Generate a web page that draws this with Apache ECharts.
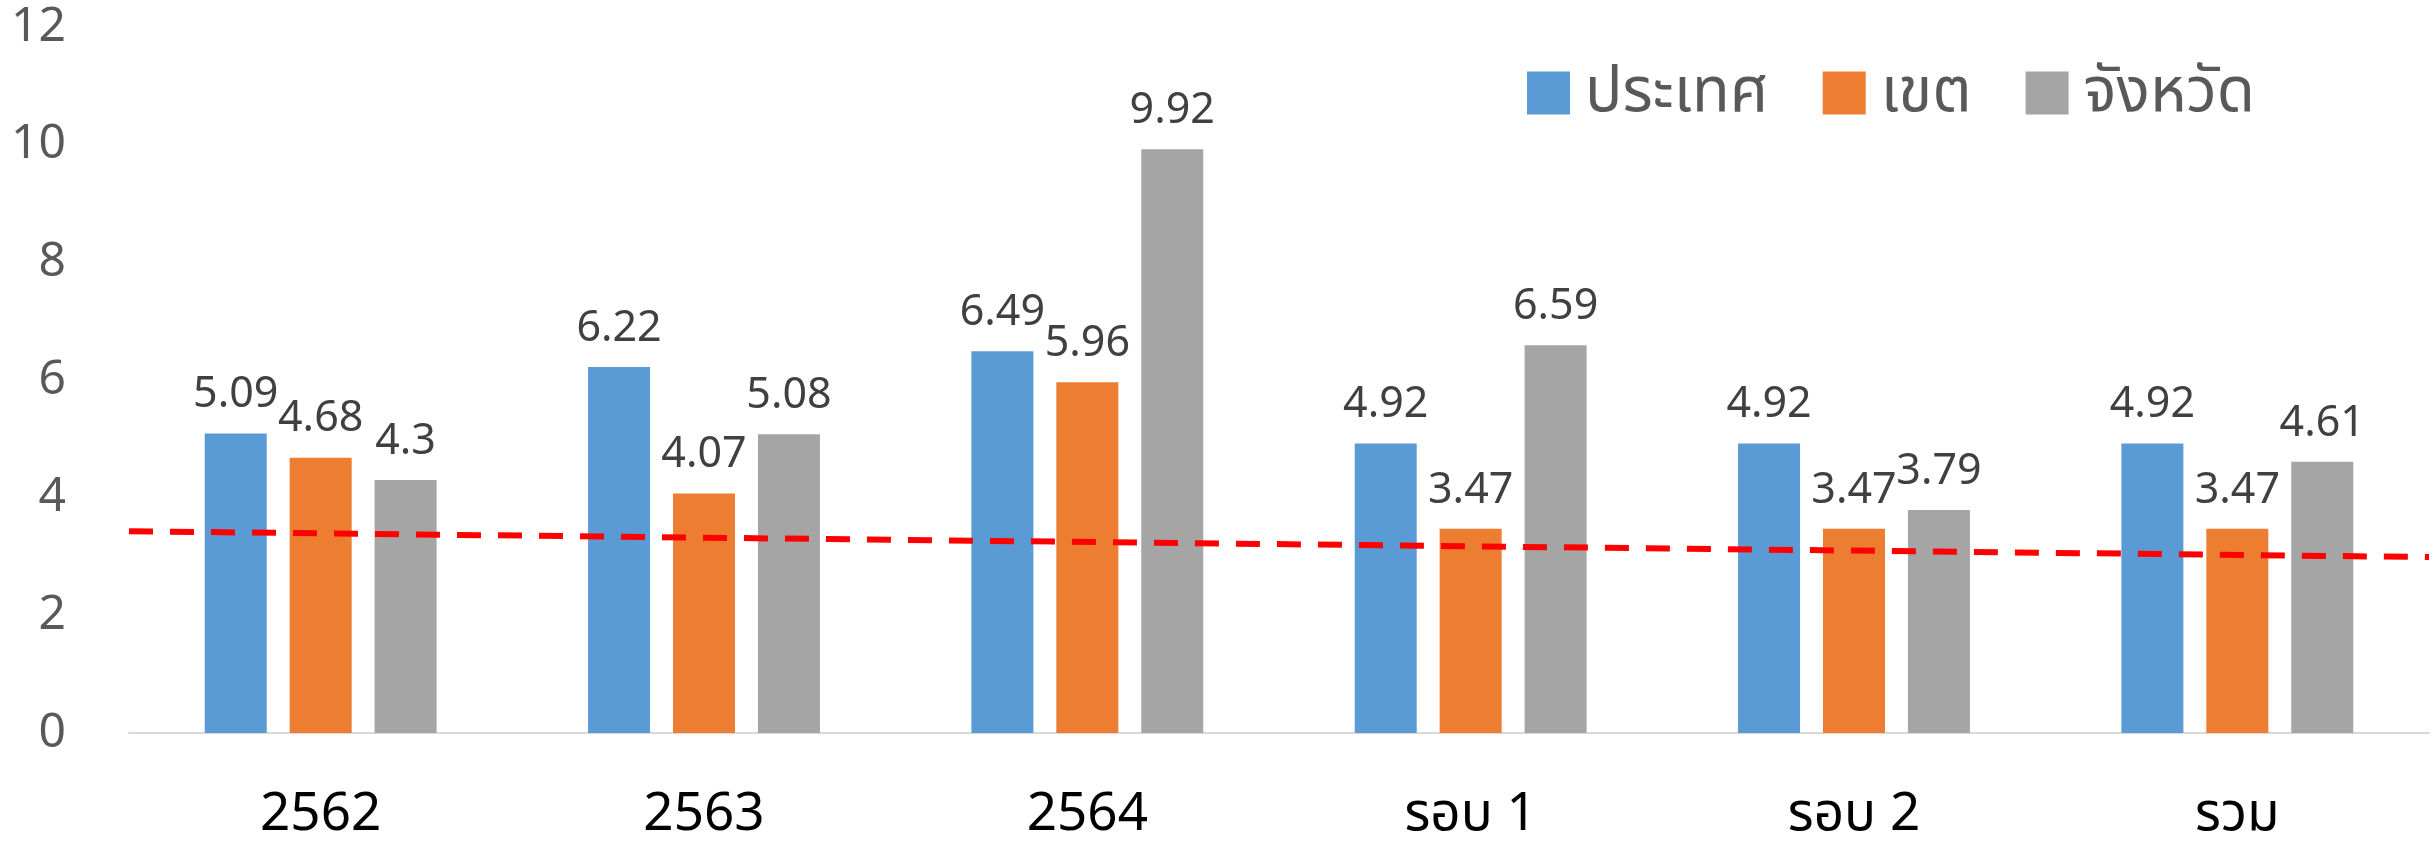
<!DOCTYPE html>
<html>
<head>
<meta charset="utf-8">
<title>chart</title>
<script src="https://cdn.jsdelivr.net/npm/echarts@6/dist/echarts.min.js"></script>
<style>
  html, body { margin: 0; padding: 0; background: #fff; }
  #chart { width: 2435px; height: 847px; }
</style>
</head>
<body>
<div id="chart"></div>
<script>
const categories = ['2562', '2563', '2564', 'รอบ 1', 'รอบ 2', 'รวม'];
const seriesNames = ['ประเทศ', 'เขต', 'จังหวัด'];
const country = [5.09, 6.22, 6.49, 4.92, 4.92, 4.92];
const district = [4.68, 4.07, 5.96, 3.47, 3.47, 3.47];
const province = [4.3, 5.08, 9.92, 6.59, 3.79, 4.61];
// red dashed trend line, value at left and right edge of the plot
const trendX = [0, 1];
const trendY = [3.43, 2.99];
const yTicks = { min: 0, max: 12, interval: 2 };

const font = '"Noto Sans", "Noto Sans Thai", sans-serif';
const colors = ['#5B9BD5', '#ED7D31', '#A5A5A5'];

const barSeries = (name, data, color) => ({
  name,
  type: 'bar',
  data,
  barWidth: 62,
  barGap: '37%',
  itemStyle: { color },
  label: {
    show: true,
    position: 'top',
    distance: 17,
    color: '#404040',
    fontSize: 43,
    fontFamily: font
  }
});

const chart = echarts.init(document.getElementById('chart'));
chart.setOption({
  animation: false,
  backgroundColor: '#fff',
  grid: { left: 129, right: 6, top: 27, bottom: 114 },
  legend: {
    data: seriesNames,
    left: 1522,
    top: 57,
    itemWidth: 43,
    itemHeight: 43,
    itemGap: 54,
    icon: 'rect',
    textStyle: { color: '#595959', fontSize: 62, fontFamily: font, padding: [0, 0, 0, 10] }
  },
  xAxis: [
    {
      type: 'category',
      data: categories,
      axisTick: { show: false },
      axisLine: { lineStyle: { color: '#D9D9D9', width: 2 } },
      axisLabel: { color: '#000', fontSize: 53, margin: 55, fontFamily: font }
    },
    { type: 'value', min: 0, max: 1, show: false }
  ],
  yAxis: {
    type: 'value',
    min: yTicks.min,
    max: yTicks.max,
    interval: yTicks.interval,
    axisLine: { show: false },
    axisTick: { show: false },
    splitLine: { show: false },
    axisLabel: { color: '#595959', fontSize: 48, margin: 63, fontFamily: font }
  },
  series: [
    barSeries(seriesNames[0], country, colors[0]),
    barSeries(seriesNames[1], district, colors[1]),
    barSeries(seriesNames[2], province, colors[2]),
    {
      name: 'trend',
      type: 'line',
      xAxisIndex: 1,
      data: trendX.map((x, i) => [x, trendY[i]]),
      symbol: 'none',
      silent: true,
      z: 5,
      lineStyle: { color: '#FF0000', width: 6, type: [24, 17] }
    }
  ]
});
</script>
</body>
</html>
